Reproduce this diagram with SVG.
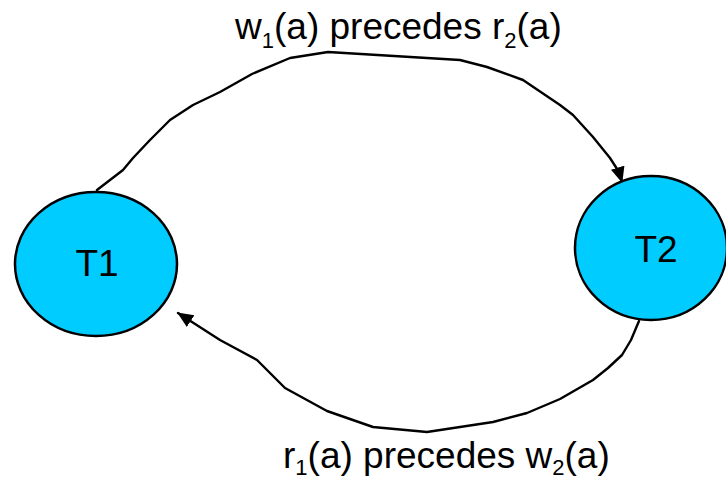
<svg xmlns="http://www.w3.org/2000/svg" width="726" height="480" viewBox="0 0 726 480">
<style>
.node{fill:#00CCFF;stroke:#000;stroke-width:2.5}
.lbl{font-family:"Liberation Sans",Arial,sans-serif;font-size:37px;fill:#000}
.sub{font-size:22px}
.edge{fill:none;stroke:#000;stroke-width:2.4;stroke-linejoin:round;stroke-linecap:round}
</style>
<defs>
<marker id="arr" markerUnits="userSpaceOnUse" markerWidth="18" markerHeight="16" refX="15" refY="7" orient="auto">
<path d="M0,0 L16,7 L0,14 z" fill="#000"/>
</marker>
</defs>
<rect width="726" height="480" fill="#fff"/>
<g id="connectors">
<path class="edge" marker-end="url(#arr)" d="M97,190 L123,170 L133,158 L150,140 L170,120 L193,105 L220,92 L252,74 L290,58 L328,52 L460,60 L487,67 L523,80 L560,105 L573,115 L593,137 L610,158 L619,172 L622,182"/>
<path class="edge" marker-end="url(#arr)" d="M639,321 L631,340 L622,355 L608,368 L593,380 L560,399 L527,413 L493,422 L427,432 L373,427 L327,411 L285,388 L257,360 L220,340 L178,313"/>
</g>
<g id="label-top">
<text class="lbl" x="235" y="39">w<tspan class="sub" dy="9">1</tspan><tspan dy="-9">(a) precedes r</tspan><tspan class="sub" dy="9">2</tspan><tspan dy="-9">(a)</tspan></text>
</g>
<g id="label-bottom">
<text class="lbl" x="283" y="468">r<tspan class="sub" dy="7">1</tspan><tspan dy="-7">(a) precedes w</tspan><tspan class="sub" dy="7">2</tspan><tspan dy="-7">(a)</tspan></text>
</g>
<g id="T1">
<ellipse class="node" cx="96" cy="264" rx="81" ry="72"/>
<text class="lbl" x="97" y="276" text-anchor="middle">T1</text>
</g>
<g id="T2">
<ellipse class="node" cx="651" cy="248" rx="76" ry="72"/>
<text class="lbl" x="656" y="262" text-anchor="middle">T2</text>
</g>
</svg>
